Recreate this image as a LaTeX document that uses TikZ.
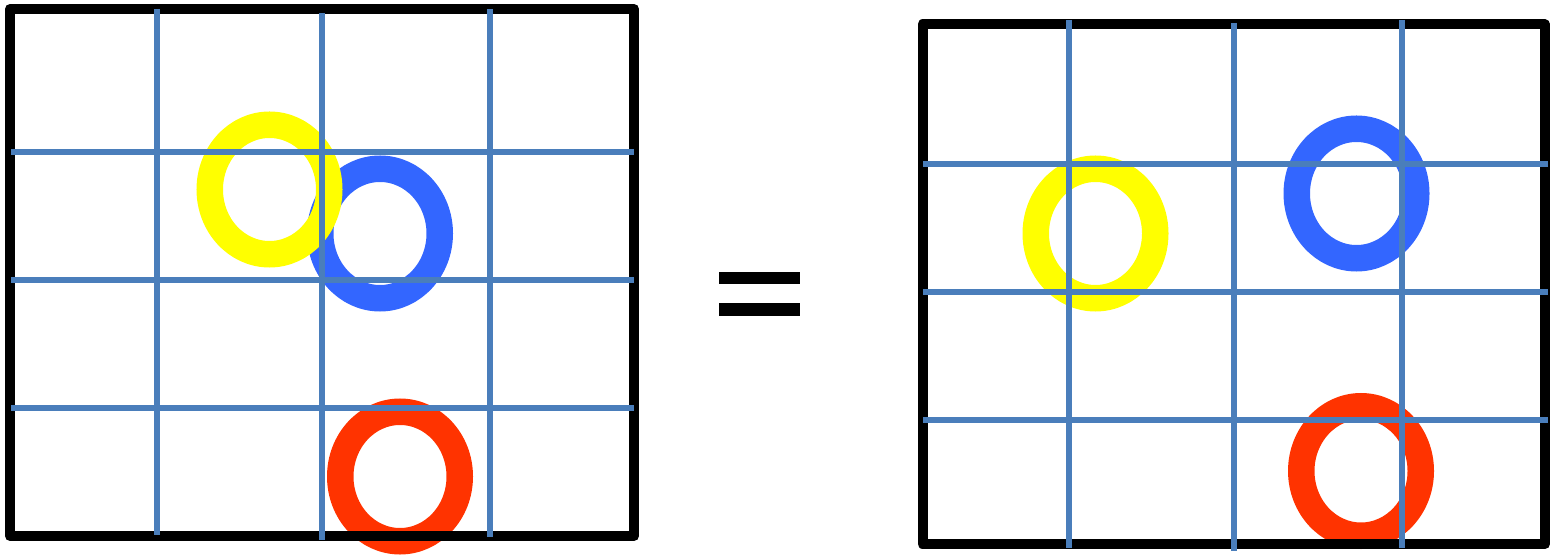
\documentclass[tikz,border=0pt]{standalone}
\definecolor{gridblue}{HTML}{4A7EBB}
\definecolor{ringyellow}{HTML}{FFFF00}
\definecolor{ringblue}{HTML}{3366FF}
\definecolor{ringred}{HTML}{FF3300}
\tikzset{
  ring/.style={line width=26.5bp},
  frame/.style={draw=black, line width=10bp, line join=round},
  gridline/.style={draw=gridblue, line width=6bp},
  eqbar/.style={fill=black},
}
\begin{document}
\begin{tikzpicture}[x=1bp,y=-1bp]
\useasboundingbox (0,0) rectangle (1550,556);
% ---- left panel ----
\draw[ring, ringblue] (380,233.5) ellipse [x radius=59.75, y radius=64.75];
\draw[ring, ringyellow] (269.5,189.5) ellipse [x radius=59.75, y radius=64.75];
\draw[ring, ringred] (400,476.5) ellipse [x radius=59.75, y radius=64.75];
\draw[frame] (10,9) rectangle (634,536);
\draw[gridline] (157,9) -- (157,535);
\draw[gridline] (322,13) -- (322,540);
\draw[gridline] (490,9) -- (490,537);
\draw[gridline] (11,152) -- (634,152);
\draw[gridline] (11,280) -- (634,280);
\draw[gridline] (11,408) -- (634,408);
% ---- equals sign ----
\fill[eqbar] (719,272) rectangle (800,284);
\fill[eqbar] (719,303) rectangle (800,316);
% ---- right panel ----
\draw[ring, ringyellow] (1095.5,233.5) ellipse [x radius=59.75, y radius=64.75];
\draw[ring, ringblue] (1356.5,193.5) ellipse [x radius=59.75, y radius=64.75];
\draw[ring, ringred] (1361,471) ellipse [x radius=59.75, y radius=64.75];
\draw[frame] (922.5,24.5) rectangle (1545,544);
\draw[gridline] (1069,20) -- (1069,548);
\draw[gridline] (1234,23) -- (1234,551);
\draw[gridline] (1402,20) -- (1402,548);
\draw[gridline] (923,164) -- (1548,164);
\draw[gridline] (923,292) -- (1548,292);
\draw[gridline] (923,420) -- (1548,420);
\end{tikzpicture}
\end{document}
